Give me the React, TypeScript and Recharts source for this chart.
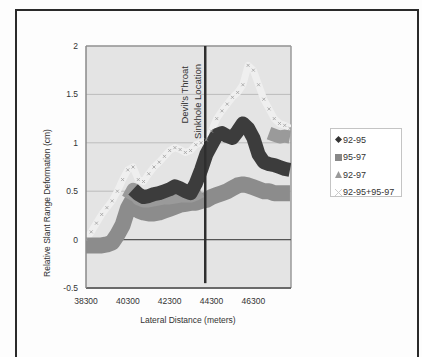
import React from 'react';
import { LineChart, Line, XAxis, YAxis, CartesianGrid, ReferenceLine } from 'recharts';

const distances = [
  38300, 38550, 38800, 39050, 39300, 39550, 39800, 40050, 40300, 40550,
  40800, 41050, 41300, 41550, 41800, 42050, 42300, 42550, 42800, 43050,
  43300, 43550, 43800, 44050, 44300, 44550, 44800, 45050, 45300, 45550,
  45800, 46050, 46300, 46550, 46800, 47050, 47300, 47550, 47800, 48050,
];

const s9295: (number | null)[] = [
  null, null, null, null, null, null, null, null, null, 0.52,
  0.47, 0.44, 0.45, 0.47, 0.48, 0.5, 0.52, 0.55, 0.53, 0.5,
  0.48, 0.58, 0.72, 0.88, 0.98, 1.08, 1.1, 1.07, 1.05, 1.12,
  1.2, 1.15, 1.05, 0.88, 0.8, 0.78, 0.77, 0.75, 0.73, 0.72,
];

const s9597: (number | null)[] = [
  -0.06, -0.06, -0.06, -0.06, -0.05, -0.03, 0.05, 0.15, 0.32, 0.42,
  0.3, 0.28, 0.27, 0.27, 0.28, 0.3, 0.32, 0.34, 0.36, 0.37,
  0.38, 0.38, 0.4, 0.41, 0.44, 0.46, 0.48, 0.5, 0.53, 0.56,
  0.57, 0.56, 0.54, 0.52, 0.5, 0.5, 0.48, 0.48, 0.48, 0.48,
];

const s9297: (number | null)[] = [
  null, null, null, null, null, null, null, null, 0.42, 0.52,
  0.42, 0.4, 0.4, 0.41, 0.42, 0.43, 0.43, 0.44, 0.45, 0.45,
  0.45, 0.47, 0.5, null, null, null, null, null, null, null,
  null, null, null, null, null, 1.1, 1.08, 1.06, 1.07, 1.06,
];

const sSum: (number | null)[] = [
  0.0, 0.08, 0.17, 0.26, 0.33, 0.4, 0.5, 0.62, 0.72, 0.75,
  0.62, 0.6, 0.68, 0.75, 0.8, 0.86, 0.92, 0.95, 0.93, 0.9,
  0.92, 0.98, 1.0, 1.03, 1.12, 1.25, 1.33, 1.4, 1.47, 1.52,
  1.6, 1.8, 1.75, 1.6, 1.45, 1.35, 1.25, 1.2, 1.18, 1.15,
];

const xTicks = [38300, 40300, 42300, 44300, 46300];
const yTicks = [-0.5, 0, 0.5, 1, 1.5, 2];
const seriesNames = ['92-95', '95-97', '92-97', '92-95+95-97'];
const sinkholeLabel = ["Devil's Throat", 'Sinkhole Location'];
const sinkholeAt = 44000;

const rows = distances.map((d, i) => ({
  d,
  a: s9295[i],
  b: s9597[i],
  c: s9297[i],
  e: sSum[i],
}));

const FONT = '"Liberation Sans", Arial, sans-serif';

const YTitle = () => (
  <text
    x={50}
    y={203}
    transform="rotate(-90 50 203)"
    textAnchor="middle"
    fontFamily={FONT}
    fontSize={8.5}
    fill="#333"
  >
    Relative Slant Range Deformation (cm)
  </text>
);

const XTitle = () => (
  <text x={188} y={323} textAnchor="middle" fontFamily={FONT} fontSize={8.5} fill="#333">
    Lateral Distance (meters)
  </text>
);

const SinkLabel = () => (
  <g fontFamily={FONT} fontSize={9.5} fill="#333">
    <text x={188} y={66} transform="rotate(-90 188 66)" textAnchor="end">
      {sinkholeLabel[0]}
    </text>
    <text x={201} y={64} transform="rotate(-90 201 64)" textAnchor="end">
      {sinkholeLabel[1]}
    </text>
  </g>
);

const XDot = (props: any) => {
  const { cx, cy, index } = props;
  if (cx == null || cy == null || props.value == null) return <g key={index} />;
  const s = 1.5;
  return (
    <path
      key={index}
      d={`M${cx - s},${cy - s}L${cx + s},${cy + s}M${cx - s},${cy + s}L${cx + s},${cy - s}`}
      stroke="#a0a0a0"
      strokeWidth={0.8}
      fill="none"
    />
  );
};

const LegendMarker = ({ i }: { i: number }) => {
  if (i === 0) return <svg width={7} height={7}><path d="M3.5,0L7,3.5L3.5,7L0,3.5Z" fill="#333" /></svg>;
  if (i === 1) return <svg width={7} height={7}><rect x={0} y={0} width={7} height={7} fill="#888" /></svg>;
  if (i === 2) return <svg width={7} height={7}><path d="M3.5,0L7,7L0,7Z" fill="#999" /></svg>;
  return (
    <svg width={7} height={7}>
      <path d="M0,0L7,7M0,7L7,0" stroke="#ccc" strokeWidth={1} />
    </svg>
  );
};

export default function App() {
  return (
    <div
      style={{
        position: 'absolute',
        left: 0,
        top: 0,
        width: 422,
        height: 357,
        overflow: 'hidden',
        background: '#fdfdfd',
      }}
    >
      <div
        style={{
          position: 'absolute',
          left: 15,
          top: 9,
          width: 404,
          height: 420,
          boxSizing: 'border-box',
          border: '2px solid #2a2a2a',
        }}
      />
      <div style={{ position: 'absolute', left: 0, top: 0 }}>
        <LineChart
          width={422}
          height={357}
          data={rows}
          margin={{ top: 46, right: 131, bottom: 0, left: 0 }}
        >
          <CartesianGrid vertical={false} fill="#e4e4e4" stroke="#bcbcbc" horizontalValues={yTicks} />
          <XAxis
            dataKey="d"
            type="number"
            domain={[38300, 48100]}
            allowDataOverflow
            ticks={xTicks}
            height={69}
            tickLine={false}
            tickSize={0}
            tickMargin={10}
            axisLine={{ stroke: '#6a6a6a', strokeWidth: 2 }}
            tick={{ fontFamily: FONT, fontSize: 8.5, fill: '#333' }}
            label={<XTitle />}
          />
          <YAxis
            type="number"
            domain={[-0.5, 2]}
            allowDataOverflow
            ticks={yTicks}
            width={86}
            tickLine={false}
            tickSize={0}
            tickMargin={8}
            axisLine={{ stroke: '#8a8a8a', strokeWidth: 1.5 }}
            tick={{ fontFamily: FONT, fontSize: 8.5, fill: '#333' }}
            label={<YTitle />}
          />
          <ReferenceLine y={2} stroke="#9a9a9a" strokeWidth={1.5} />
          <ReferenceLine x={48100} stroke="#9a9a9a" strokeWidth={1.5} />
          <ReferenceLine y={0} stroke="#555" strokeWidth={1.2} />
          <Line
            dataKey="e"
            name={seriesNames[3] + ' band'}
            stroke="#efefef"
            strokeWidth={7}
            strokeLinejoin="round"
            dot={false}
            legendType="none"
            isAnimationActive={false}
            connectNulls={false}
          />
          <Line
            dataKey="b"
            name={seriesNames[1]}
            stroke="#8c8c8c"
            strokeWidth={16}
            strokeLinejoin="round"
            dot={false}
            isAnimationActive={false}
            connectNulls={false}
          />
          <Line
            dataKey="c"
            name={seriesNames[2]}
            stroke="#9a9a9a"
            strokeWidth={13}
            strokeLinejoin="round"
            dot={false}
            isAnimationActive={false}
            connectNulls={false}
          />
          <Line
            dataKey="a"
            name={seriesNames[0]}
            stroke="#3c3c3c"
            strokeWidth={14}
            strokeLinejoin="round"
            dot={false}
            isAnimationActive={false}
            connectNulls={false}
          />
          <Line
            dataKey="e"
            name={seriesNames[3]}
            stroke="none"
            strokeWidth={0}
            dot={<XDot />}
            isAnimationActive={false}
            connectNulls={false}
          />
          <ReferenceLine
            segment={[
              { x: sinkholeAt, y: 2 },
              { x: sinkholeAt, y: -0.45 },
            ]}
            stroke="#2e2e2e"
            strokeWidth={2.5}
            label={<SinkLabel />}
          />
        </LineChart>
      </div>
      <div
        style={{
          position: 'absolute',
          left: 330,
          top: 128,
          width: 72,
          height: 69,
          boxSizing: 'border-box',
          border: '1px solid #c4c4c4',
          background: '#fff',
          fontFamily: FONT,
          fontSize: 9,
          color: '#333',
          paddingTop: 2,
        }}
      >
        {seriesNames.map((n, i) => (
          <div
            key={n}
            style={{ display: 'flex', alignItems: 'center', height: 17.5, paddingLeft: 4, whiteSpace: 'nowrap' }}
          >
            <LegendMarker i={i} />
            <span style={{ marginLeft: 1 }}>{n}</span>
          </div>
        ))}
      </div>
    </div>
  );
}
